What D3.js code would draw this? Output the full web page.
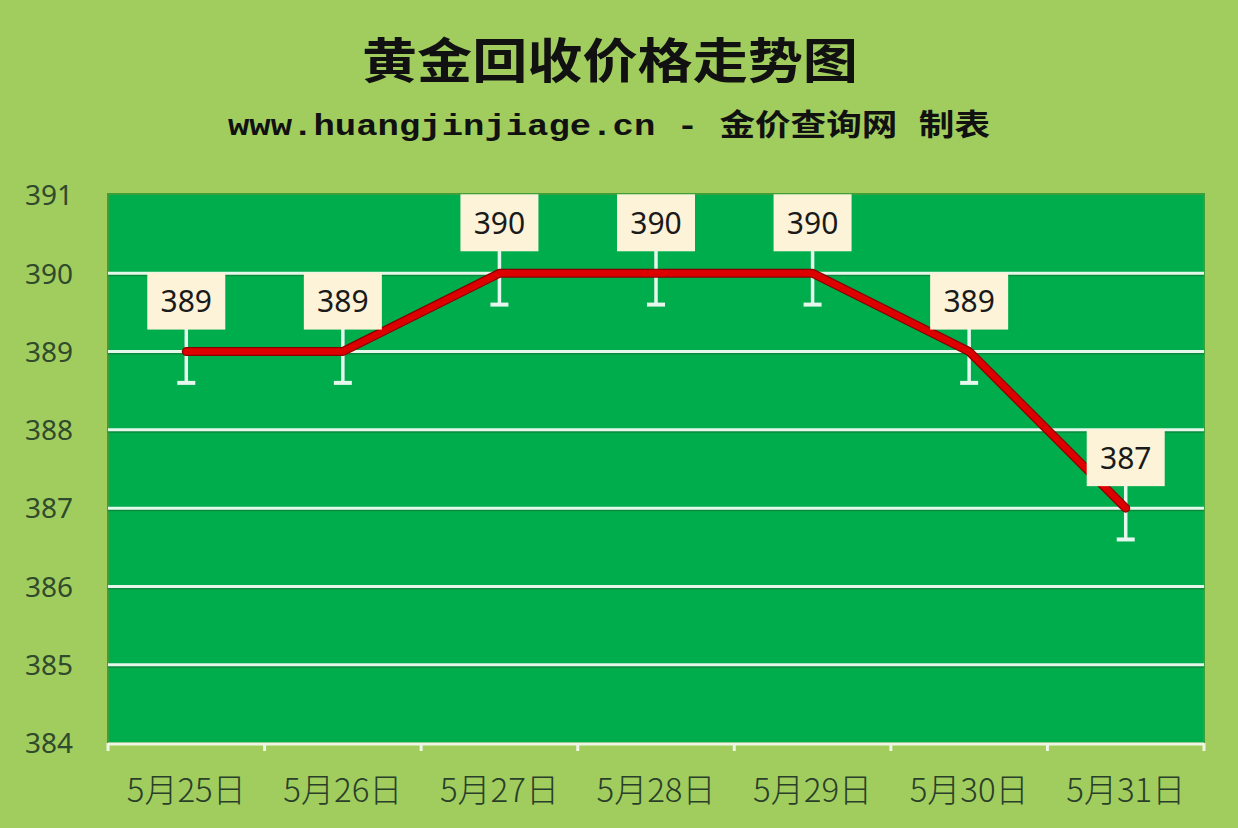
<!DOCTYPE html>
<html><head><meta charset="utf-8">
<script src="https://cdn.jsdelivr.net/npm/d3@7"></script>
<style>html,body{margin:0;padding:0;background:#a1cd5e;}svg{display:block}</style>
</head><body>
<svg id="c" width="1238" height="828"></svg>
<script>
const categories = ["5月25日","5月26日","5月27日","5月28日","5月29日","5月30日","5月31日"];
const prices = [389, 389, 390, 390, 390, 389, 387];
const yTicks = [384, 385, 386, 387, 388, 389, 390, 391];
const errorAmount = 0.4;
const titleText = "黄金回收价格走势图";
const subtitleText = "www.huangjinjiage.cn - 金价查询网 制表";

const svg = d3.select("#c");
const W = 1238, H = 828;
const m = {left:108, right:1204, top:195, bottom:743};
svg.append("rect").attr("width",W).attr("height",H).attr("fill","#a1cd5e");

const x = d3.scaleBand().domain(categories).range([m.left, m.right]).paddingInner(0).paddingOuter(0);
const y = d3.scaleLinear().domain([384, 391]).range([m.bottom, m.top]);

// plot area
svg.append("rect").attr("x",m.left).attr("y",m.top-1).attr("width",m.right-m.left).attr("height",m.bottom-m.top+1)
  .attr("fill","#00ad4c").attr("stroke","#3f9e3a").attr("stroke-width",2);

// gridlines
const grid = svg.append("g");
yTicks.filter(t=>t>384 && t<391).forEach(t=>{
  grid.append("line").attr("x1",m.left).attr("x2",m.right).attr("y1",y(t)+2).attr("y2",y(t)+2)
    .attr("stroke","#0b8a3c").attr("stroke-width",2);
  grid.append("line").attr("x1",m.left).attr("x2",m.right).attr("y1",y(t)).attr("y2",y(t))
    .attr("stroke","#e4f7ea").attr("stroke-width",3);
});

// y axis labels
const yAxis = d3.axisLeft(y).tickValues(yTicks).tickSize(0).tickPadding(0).tickFormat(d3.format("d"));
const gy = svg.append("g").attr("transform",`translate(73,0)`).call(yAxis);
gy.select(".domain").remove();
gy.selectAll("text").attr("font-family","'Noto Sans','Open Sans',sans-serif").attr("font-size",28)
  .attr("fill","#2f4a2c").attr("dy","0.35em");

// x axis
const xAxis = d3.axisBottom(x).tickSize(0).tickPadding(0);
const gx = svg.append("g").attr("transform",`translate(0,${m.bottom})`).call(xAxis);
gx.select(".domain").remove();
gx.append("line").attr("x1",m.left).attr("x2",m.right).attr("y1",1).attr("y2",1).attr("stroke","#eef5e4").attr("stroke-width",3);
d3.range(categories.length+1).forEach(i=>{
  const xx = m.left + i*x.step();
  gx.append("line").attr("x1",xx).attr("x2",xx).attr("y1",0).attr("y2",8).attr("stroke","#eef5e4").attr("stroke-width",3);
});
gx.selectAll(".tick text").attr("y",47).attr("dy","0.35em").attr("font-family","'Noto Sans CJK SC','Noto Sans',sans-serif")
  .attr("font-weight",300).attr("font-size",33).attr("fill","#2a3f2a");

const cx = d => x(d) + x.bandwidth()/2;

// error bars
const eb = svg.append("g");
categories.forEach((c,i)=>{
  const v = prices[i];
  eb.append("line").attr("x1",cx(c)).attr("x2",cx(c)).attr("y1",y(v+errorAmount)).attr("y2",y(v-errorAmount))
    .attr("stroke","#e6f7ee").attr("stroke-width",3.5);
  eb.append("line").attr("x1",cx(c)-9).attr("x2",cx(c)+9).attr("y1",y(v-errorAmount)).attr("y2",y(v-errorAmount))
    .attr("stroke","#e6f7ee").attr("stroke-width",4);
});

// line
const line = d3.line().x((d,i)=>cx(categories[i])).y(d=>y(d));
svg.append("path").datum(prices).attr("d",line).attr("fill","none").attr("stroke","#8a0000")
  .attr("stroke-width",9).attr("stroke-linejoin","round").attr("stroke-linecap","round");
svg.append("path").datum(prices).attr("d",line).attr("fill","none").attr("stroke","#dd0000")
  .attr("stroke-width",6.5).attr("stroke-linejoin","round").attr("stroke-linecap","round");

// labels
const lb = svg.append("g");
categories.forEach((c,i)=>{
  const v = prices[i];
  const bx = cx(c), by = y(v) - 51;
  lb.append("rect").attr("x",bx-39).attr("y",by-28).attr("width",78).attr("height",57).attr("fill","#fdf3d8");
  lb.append("text").attr("x",bx).attr("y",by+1).attr("dy","0.35em").attr("text-anchor","middle")
    .attr("font-family","'Noto Sans','Open Sans',sans-serif").attr("font-size",30).attr("fill","#1a1a1a").text(v);
});

// titles
svg.append("text").attr("x",610).attr("y",78).attr("text-anchor","middle")
  .attr("font-family","'Noto Sans CJK SC',sans-serif").attr("font-weight",700).attr("font-size",48)
  .attr("textLength",496).attr("lengthAdjust","spacingAndGlyphs").attr("fill","#111").text(titleText);
svg.append("text").attr("x",609).attr("y",135).attr("text-anchor","middle")
  .attr("font-family","'Liberation Mono','Noto Sans CJK SC',monospace").attr("font-weight",700).attr("font-size",30)
  .attr("textLength",762).attr("lengthAdjust","spacingAndGlyphs").attr("fill","#111").text(subtitleText);
</script>
</body></html>
